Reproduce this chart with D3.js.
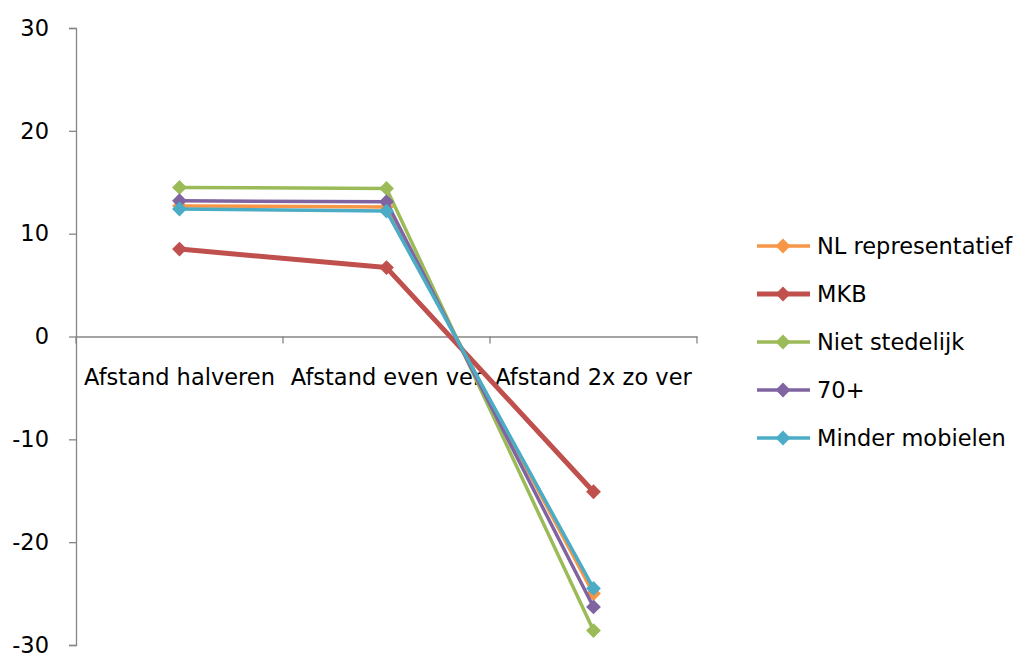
<!DOCTYPE html>
<html><head><meta charset="utf-8">
<script src="https://cdn.jsdelivr.net/npm/d3@7"></script>
<style>body{margin:0;background:#fff}svg{display:block}text{font-family:"DejaVu Sans",sans-serif;fill:#000}</style>
</head><body><svg id="c" width="1021" height="657"></svg>
<script>
const categories = ["Afstand halveren", "Afstand even ver", "Afstand 2x zo ver"];
const seriesNames = ["NL representatief", "MKB", "Niet stedelijk", "70+", "Minder mobielen"];
const nlRepresentatief = [12.7, 12.6, -25.0];
const mkb = [8.5, 6.7, -15.1];
const nietStedelijk = [14.5, 14.4, -28.6];
const zeventigPlus = [13.2, 13.1, -26.3];
const minderMobielen = [12.4, 12.2, -24.5];
const yTicks = [-30, -20, -10, 0, 10, 20, 30];
const colors = ["#F79646", "#C0504D", "#9BBB59", "#8064A2", "#4BACC6"];
const widths = [3.5, 5, 3.5, 3.5, 3.5];

const seriesValues = [nlRepresentatief, mkb, nietStedelijk, zeventigPlus, minderMobielen];
const svg = d3.select("#c");
const x = d3.scaleBand().domain(categories).range([76, 697]);
const y = d3.scaleLinear().domain([-30, 30]).range([645, 28]);
const axisColor = "#868686";
const fs = "22.5px";

// y axis
const ya = svg.append("g").attr("transform", "translate(76,0)")
  .call(d3.axisLeft(y).tickValues(yTicks).tickSize(7).tickPadding(20).tickFormat(d => String(d)));
ya.select(".domain").attr("stroke", axisColor).attr("stroke-width", 1.3);
ya.selectAll(".tick line").attr("stroke", axisColor).attr("stroke-width", 1.3);
ya.selectAll(".tick text").style("font-size", fs).style("font-family", '"DejaVu Sans",sans-serif').attr("fill", "#000");

// x axis at 0
const xa = svg.append("g").attr("transform", `translate(0,${y(0)})`)
  .call(d3.axisBottom(x).tickSize(0).tickPadding(33));
xa.select(".domain").attr("stroke", axisColor).attr("stroke-width", 1.3);
xa.selectAll(".tick text").style("font-size", fs).style("font-family", '"DejaVu Sans",sans-serif').attr("fill", "#000");
const bounds = [76].concat(categories.map(c => x(c) + x.bandwidth()));
xa.selectAll(".bt").data(bounds).enter().append("line")
  .attr("x1", d => d).attr("x2", d => d).attr("y1", 0).attr("y2", 7)
  .attr("stroke", axisColor).attr("stroke-width", 1.3);

const cx = c => x(c) + x.bandwidth() / 2;
const line = d3.line().x((d, i) => cx(categories[i])).y(d => y(d));
const marker = d3.symbol().type(d3.symbolSquare).size(110);

seriesValues.forEach((vals, s) => {
  const g = svg.append("g");
  g.append("path").attr("d", line(vals)).attr("fill", "none")
    .attr("stroke", colors[s]).attr("stroke-width", widths[s]).attr("stroke-linejoin", "round");
  g.selectAll("path.m").data(vals).enter().append("path").attr("class", "m")
    .attr("d", marker)
    .attr("transform", (d, i) => `translate(${cx(categories[i])},${y(d)}) rotate(45)`)
    .attr("fill", colors[s]);
});

// legend
const lg = svg.append("g");
seriesNames.forEach((n, i) => {
  const yy = 246 + i * 48;
  lg.append("line").attr("x1", 757).attr("x2", 810).attr("y1", yy).attr("y2", yy)
    .attr("stroke", colors[i]).attr("stroke-width", widths[i]);
  lg.append("path").attr("d", marker())
    .attr("transform", `translate(783,${yy}) rotate(45)`).attr("fill", colors[i]);
  lg.append("text").attr("x", 817).attr("y", yy).attr("dy", "0.35em")
    .style("font-size", fs).text(n);
});
</script></body></html>
